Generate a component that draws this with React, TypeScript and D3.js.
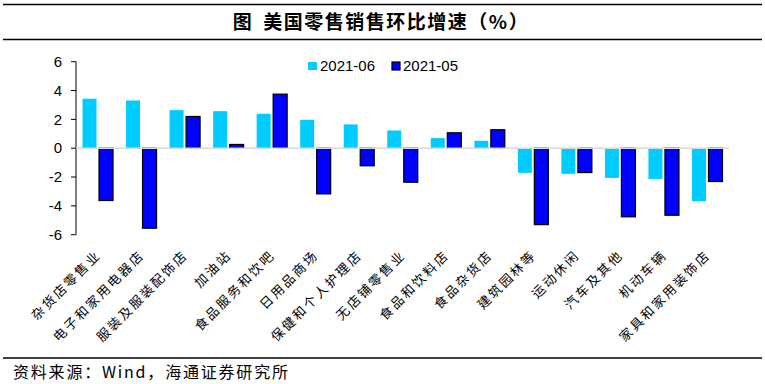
import React from 'react';
import * as d3 from 'd3';

const categories = [
    '杂货店零售业', '电子和家用电器店', '服装及服装配饰店', '加油站', '食品服务和饮吧',
    '日用品商场', '保健和个人护理店', '无店铺零售业', '食品和饮料店', '食品杂货店',
    '建筑园林等', '运动休闲', '汽车及其他', '机动车辆', '家具和家用装饰店',
];
const jun = [3.43, 3.31, 2.64, 2.57, 2.39, 1.97, 1.65, 1.23, 0.7, 0.51, -1.71, -1.78, -2.06, -2.13, -3.68];
const may = [-3.63, -5.55, 2.2, 0.26, 3.75, -3.17, -1.22, -2.36, 1.07, 1.28, -5.3, -1.69, -4.76, -4.65, -2.31];
const seriesNames = ['2021-06', '2021-05'];
const yTicks = [-6, -4, -2, 0, 2, 4, 6];

const W = 765;
const H = 384;
const plot = { left: 76, right: 729, top: 61.7, bottom: 234.7 };

const App: React.FC = () => {
    // 去掉默认边距
    document.body.style.margin = '0';

    const x = d3.scaleBand<string>()
        .domain(categories)
        .range([plot.left, plot.right]);
    const y = d3.scaleLinear()
        .domain([-6, 6])
        .range([plot.bottom, plot.top]);

    const barW = 14;
    const gap = 2.5;
    const cjk = '"Noto Sans CJK SC", sans-serif';
    const latin = 'Arial, "Liberation Sans", sans-serif';

    return (
        <svg width={W} height={H} style={{ display: 'block' }}>
            <rect width={W} height={H} fill="#fff" />
            <line x1={3} x2={762} y1={4.5} y2={4.5} stroke="#000" strokeWidth={1.5} />
            <text x={381} y={29} textAnchor="middle" fontFamily={cjk} fontWeight="bold" fontSize={19} letterSpacing={1.5}>
                <tspan>图</tspan>
                <tspan dx={10}>美国零售销售环比增速（%）</tspan>
            </text>
            <line x1={3} x2={762} y1={39.5} y2={39.5} stroke="#000" strokeWidth={1.5} />

            {/* y axis */}
            <line x1={plot.left} x2={plot.left} y1={y(6)} y2={y(-6)} stroke="#000" strokeWidth={1} />
            {yTicks.map(t => (
                <g key={t}>
                    <line x1={plot.left - 5} x2={plot.left} y1={y(t)} y2={y(t)} stroke="#000" />
                    <text x={62} y={y(t)} dy="0.35em" textAnchor="end" fontFamily={latin} fontSize={15}>
                        {t}
                    </text>
                </g>
            ))}

            {/* bars */}
            {categories.map((c, i) => {
                const cx = (x(c) as number) + x.bandwidth() / 2;
                const j = jun[i];
                const m = may[i];
                return (
                    <g key={c}>
                        <rect x={cx - gap / 2 - barW} width={barW}
                            y={Math.min(y(0), y(j))} height={Math.abs(y(j) - y(0))} fill="#00CCFF" />
                        <rect x={cx + gap / 2} width={barW}
                            y={Math.min(y(0), y(m))} height={Math.abs(y(m) - y(0))}
                            fill="#0000FF" stroke="#000" strokeWidth={1.2} />
                    </g>
                );
            })}
            <line x1={plot.left} x2={plot.right} y1={y(0)} y2={y(0)} stroke="#d9d9d9" strokeWidth={1.5} />

            {/* x labels */}
            {categories.map(c => {
                const cx = (x(c) as number) + x.bandwidth() / 2;
                return (
                    <text key={c} transform={`translate(${cx + 4},${256}) rotate(-45)`}
                        textAnchor="end" fontFamily={cjk} fontSize={13} letterSpacing={2.3}>
                        {c}
                    </text>
                );
            })}

            {/* legend */}
            <rect x={308} y={62} width={9} height={8} fill="#00CCFF" />
            <text x={320} y={66} dy="0.35em" fontFamily={latin} fontSize={15}>{seriesNames[0]}</text>
            <rect x={392} y={62} width={8} height={8} fill="#0000FF" stroke="#000" strokeWidth={1.2} />
            <text x={403} y={66} dy="0.35em" fontFamily={latin} fontSize={15}>{seriesNames[1]}</text>

            <line x1={3} x2={762} y1={358} y2={358} stroke="#000" strokeWidth={1.5} />
            <text x={13} y={378} fontFamily={cjk} fontSize={16} letterSpacing={1.8}>
                资料来源：Wind，海通证券研究所
            </text>
        </svg>
    );
};

export default App;
